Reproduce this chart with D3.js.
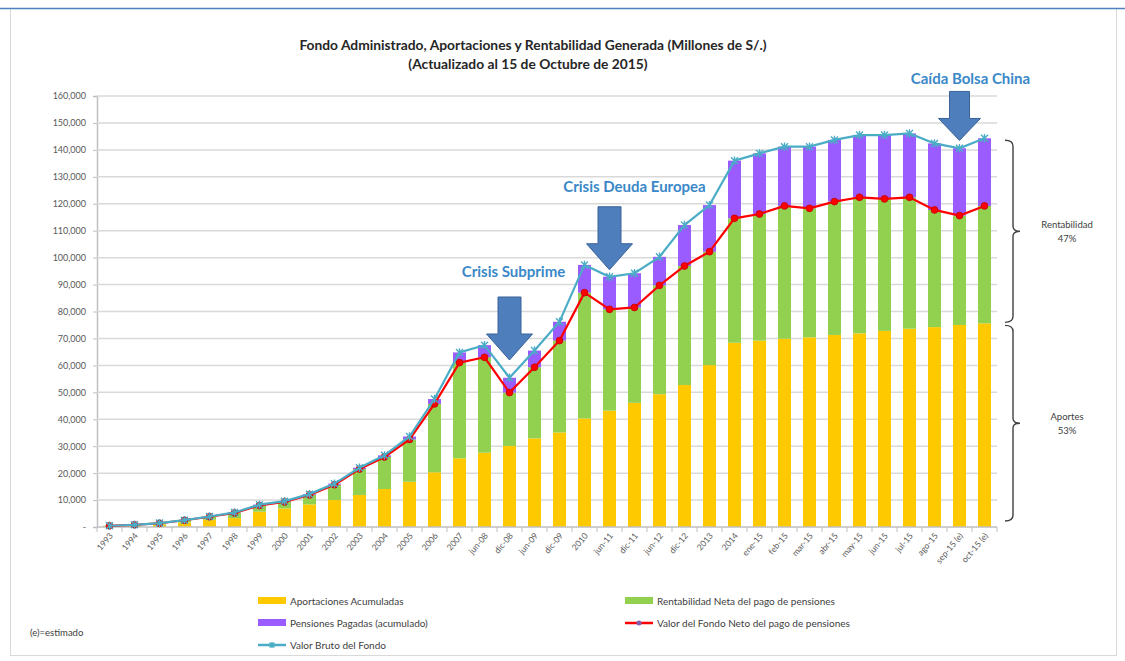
<!DOCTYPE html>
<html>
<head>
<meta charset="utf-8">
<script src="https://cdn.jsdelivr.net/npm/d3@7"></script>
<style>
  body { margin: 0; background: #fff; }
  svg { display: block; font-family: Lato, "Open Sans", sans-serif; }
</style>
</head>
<body>
<svg id="chart" width="1125" height="661"></svg>
<script>
// categories on the x axis
var categories = ["1993","1994","1995","1996","1997","1998","1999","2000","2001","2002","2003","2004","2005","2006","2007",
  "jun-08","dic-08","jun-09","dic-09","2010","jun-11","dic-11","jun-12","dic-12","2013","2014",
  "ene-15","feb-15","mar-15","abr-15","may-15","jun-15","jul-15","ago-15","sep-15 (e)","oct-15 (e)"];

// millones de S/.
var aportaciones = [300,550,900,1700,2700,3300,5700,6900,8400,10000,11900,14100,16800,20300,25500,
  27600,30100,32900,35100,40300,43200,46100,49300,52700,60100,68400,
  69200,69900,70400,71300,71900,72800,73600,74200,75000,75600];
var valorNeto = [450,800,1400,2500,3800,5200,8000,9300,11900,15700,21500,26000,32500,45700,61000,
  63000,49900,59300,69200,87000,80800,81500,89700,96900,102200,114600,
  116200,119200,118300,120800,122400,121800,122400,117700,115600,119200];
var valorBruto = [460,820,1450,2550,3900,5400,8300,9600,12200,16100,22000,26600,33600,47500,64800,
  67500,55400,65500,76200,97300,92900,94200,100300,112100,119500,136000,
  138700,141200,141200,143700,145500,145500,146100,142400,140600,144300];

var yTickValues = [0,10000,20000,30000,40000,50000,60000,70000,80000,90000,100000,110000,120000,130000,140000,150000,160000];

var seriesNames = ["Aportaciones Acumuladas","Rentabilidad Neta del pago de pensiones","Pensiones Pagadas (acumulado)",
  "Valor del Fondo Neto del pago de pensiones","Valor Bruto del Fondo"];
var barColors = ["#ffc900","#92d050","#9a5cff"];

// crisis annotations: category, value at arrow tip, label
var crisisCats = ["dic-08","jun-11","sep-15 (e)"];
var crisisTip = [62000, 95500, 143500];
var crisisLabels = ["Crisis Subprime","Crisis Deuda Europea","Caída Bolsa China"];

// share labels on the right
var braceLabels = ["Rentabilidad","Aportes"];
var bracePct = ["47%","53%"];

var svg = d3.select("#chart");
var margin = {left: 97, right: 128, top: 96, bottom: 134};
var W = 1125, H = 661;

// frame
svg.append("rect").attr("x",10.5).attr("y",8.5).attr("width",1106).attr("height",647)
  .attr("fill","none").attr("stroke","#d9d9d9");
svg.append("line").attr("x1",0).attr("x2",W).attr("y1",8.5).attr("y2",8.5)
  .attr("stroke","#4f81bd").attr("stroke-width",1.5);

var x = d3.scaleBand().domain(categories)
  .range([margin.left, W - margin.right])
  .paddingInner(0.48).paddingOuter(0.24);
var y = d3.scaleLinear().domain([0,160000]).range([H - margin.bottom, margin.top]);

// title
svg.append("text").attr("x",533).attr("y",50).attr("text-anchor","middle")
  .attr("font-size",13.8).attr("font-weight","bold").attr("fill","#262626")
  .text("Fondo Administrado, Aportaciones y Rentabilidad Generada (Millones de S/.)");
svg.append("text").attr("x",528).attr("y",69).attr("text-anchor","middle")
  .attr("font-size",13.8).attr("font-weight","bold").attr("fill","#262626")
  .text("(Actualizado al 15 de Octubre de 2015)");

// grid + y axis
var yAxis = d3.axisLeft(y).tickValues(yTickValues).tickSize(4)
  .tickFormat(function(d){ return d === 0 ? "-" : d3.format(",")(d); });
var gy = svg.append("g").attr("transform","translate(" + margin.left + ",0)").call(yAxis);
gy.select(".domain").attr("stroke","#bfbfbf").attr("stroke-width",1.5);
gy.selectAll(".tick line").attr("stroke","#bfbfbf");
gy.selectAll(".tick text").attr("font-size",9).attr("fill","#595959").attr("x",-11)
  .attr("font-family","Lato, sans-serif");

svg.append("g").selectAll("line").data(yTickValues.filter(function(d){ return d > 0; }))
  .enter().append("line")
  .attr("x1",margin.left).attr("x2",W - margin.right)
  .attr("y1",function(d){ return y(d); }).attr("y2",function(d){ return y(d); })
  .attr("stroke","#d9d9d9").attr("stroke-width",1.5);

// stacked bars
var table = categories.map(function(c,i){
  return {cat: c, aport: aportaciones[i], rent: valorNeto[i] - aportaciones[i], pens: valorBruto[i] - valorNeto[i]};
});
var stack = d3.stack().keys(["aport","rent","pens"])(table);

svg.append("g").selectAll("g").data(stack).enter().append("g")
  .attr("fill",function(d,i){ return barColors[i]; })
  .selectAll("rect").data(function(d){ return d; }).enter().append("rect")
  .attr("x",function(d){ return x(d.data.cat); })
  .attr("width",x.bandwidth())
  .attr("y",function(d){ return y(d[1]); })
  .attr("height",function(d){ return Math.max(0, y(d[0]) - y(d[1])); });

// x axis
var y0 = y(0);
svg.append("line").attr("x1",margin.left).attr("x2",W - margin.right)
  .attr("y1",y0).attr("y2",y0).attr("stroke","#bfbfbf").attr("stroke-width",1.5);
svg.append("g").selectAll("line").data(categories.concat(["end"])).enter().append("line")
  .attr("x1",function(d,i){ return margin.left + i*x.step(); })
  .attr("x2",function(d,i){ return margin.left + i*x.step(); })
  .attr("y1",y0).attr("y2",y0 + 5).attr("stroke","#bfbfbf");
svg.append("g").selectAll("text").data(categories).enter().append("text")
  .attr("transform",function(d){
    return "translate(" + (x(d) + x.bandwidth()/2 + 4) + "," + (y0 + 9) + ") rotate(-50)";
  })
  .attr("text-anchor","end").attr("font-size",8.5).attr("fill","#595959")
  .text(function(d){ return d; });

// lines
var cx = function(d,i){ return x(categories[i]) + x.bandwidth()/2; };
var line = d3.line().x(cx).y(function(d){ return y(d); });

svg.append("path").datum(valorNeto).attr("d",line)
  .attr("fill","none").attr("stroke","#ff0000").attr("stroke-width",2.2);
svg.append("g").selectAll("circle").data(valorNeto).enter().append("circle")
  .attr("cx",cx).attr("cy",function(d){ return y(d); }).attr("r",3.4)
  .attr("fill","#ff0000").attr("stroke","#c00000").attr("stroke-width",0.8);

svg.append("path").datum(valorBruto).attr("d",line)
  .attr("fill","none").attr("stroke","#4bacc6").attr("stroke-width",2.2);

function star(g, px, py, r, color) {
  g.append("path")
    .attr("d","M" + (px-r) + "," + (py-r) + "L" + (px+r) + "," + (py+r) +
      "M" + (px-r) + "," + (py+r) + "L" + (px+r) + "," + (py-r) +
      "M" + px + "," + (py-r*1.2) + "L" + px + "," + (py+r*1.2))
    .attr("stroke",color).attr("stroke-width",1.4).attr("fill","none");
}
var gStars = svg.append("g");
valorBruto.forEach(function(v,i){ star(gStars, cx(v,i), y(v), 3.5, "#4bacc6"); });

// crisis arrows
var gArr = svg.append("g");
crisisCats.forEach(function(c,i){
  var tx = x(c) + x.bandwidth()/2;
  var ty = y(crisisTip[i]);
  var len = i === 2 ? 49 : 63;
  var hw = i === 2 ? 21 : 23, sw = i === 2 ? 10 : 11.5, hl = i === 2 ? 22 : 26;
  var top = ty - len;
  var pts = [[tx - sw, top],[tx + sw, top],[tx + sw, ty - hl],[tx + hw, ty - hl],[tx, ty],
    [tx - hw, ty - hl],[tx - sw, ty - hl]];
  gArr.append("path").attr("d", d3.line()(pts) + "Z")
    .attr("fill","#4f7ebd").attr("stroke","#3a639a").attr("stroke-width",1);
  var dy = [20, 15, 7][i];
  gArr.append("text").attr("x", tx + [4, 25, 11][i]).attr("y", top - dy)
    .attr("text-anchor","middle").attr("font-size",15).attr("font-weight","bold")
    .attr("fill","#3a88c8").text(crisisLabels[i]);
});

// braces on the right
var last = categories.length - 1;
function brace(top, bottom, bx) {
  var m = (top + bottom)/2;
  var p = "M" + bx + "," + top + " Q" + (bx+8) + "," + top + " " + (bx+8) + "," + (top+6) +
    " V" + (m-5) + " Q" + (bx+8) + "," + m + " " + (bx+15) + "," + m +
    " Q" + (bx+8) + "," + m + " " + (bx+8) + "," + (m+5) +
    " V" + (bottom-6) + " Q" + (bx+8) + "," + bottom + " " + bx + "," + bottom;
  svg.append("path").attr("d",p).attr("fill","none").attr("stroke","#404040").attr("stroke-width",1.4);
  return m;
}
var m1 = brace(y(valorBruto[last]) + 2, y(aportaciones[last]) - 1, 1005);
var m2 = brace(y(aportaciones[last]) + 2, y0 - 6, 1005);
[m1, m2].forEach(function(m,i){
  var tt = svg.append("text").attr("text-anchor","middle").attr("font-size",9.5).attr("fill","#404040");
  tt.append("tspan").attr("x",1067).attr("y",m - 3).text(braceLabels[i]);
  tt.append("tspan").attr("x",1067).attr("y",m + 11).text(bracePct[i]);
});

// legend
var legendPos = [[258,601],[625,601],[258,623],[625,623],[258,645]];
var lg = svg.append("g");
seriesNames.forEach(function(name,i){
  var p = legendPos[i];
  if (i < 3) {
    lg.append("rect").attr("x",p[0]).attr("y",p[1]-4).attr("width",28).attr("height",7).attr("fill",barColors[i]);
  } else {
    var col = i === 3 ? "#ff0000" : "#4bacc6";
    lg.append("line").attr("x1",p[0]).attr("x2",p[0]+28).attr("y1",p[1]).attr("y2",p[1])
      .attr("stroke",col).attr("stroke-width",2.5);
    if (i === 3) {
      lg.append("circle").attr("cx",p[0]+14).attr("cy",p[1]).attr("r",2.5).attr("fill","#7f5fb0");
    } else {
      star(lg, p[0]+14, p[1], 2.5, "#4bacc6");
    }
  }
  lg.append("text").attr("x",p[0]+32).attr("y",p[1]+3.5).attr("font-size",10).attr("fill","#404040").text(name);
});

svg.append("text").attr("x",30).attr("y",636).attr("font-size",9.5).attr("fill","#404040").text("(e)=estimado");
</script>
</body>
</html>
